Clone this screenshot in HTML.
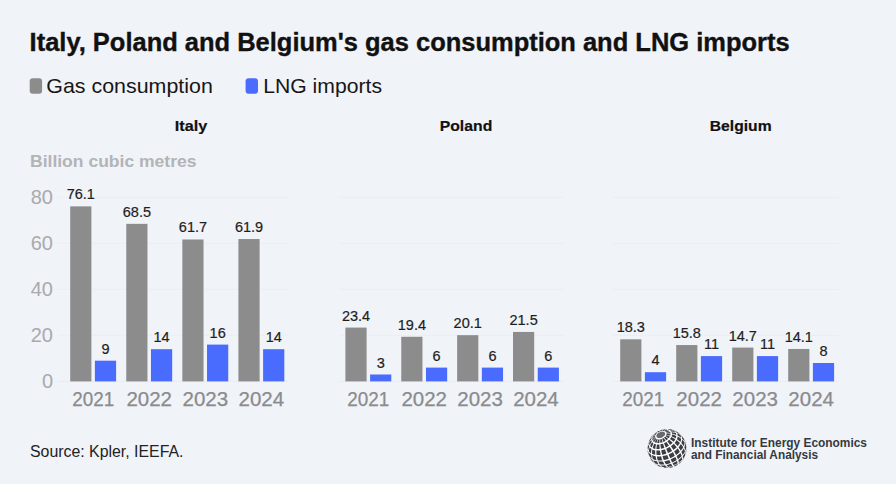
<!DOCTYPE html>
<html><head><meta charset="utf-8"><style>
html,body{margin:0;padding:0;background:#f0f3f8;}
body{width:896px;height:484px;overflow:hidden;position:relative;font-family:"Liberation Sans",sans-serif;}
svg{position:absolute;left:0;top:0;}
text{font-family:"Liberation Sans",sans-serif;}
.title{font-size:25px;font-weight:700;fill:#111;stroke:#111;stroke-width:0.35px;}
.leg{font-size:20.8px;fill:#161616;}
.pt{font-size:15.5px;font-weight:700;fill:#111;stroke:#111;stroke-width:0.2px;}
.unit{font-size:16px;font-weight:700;fill:#b3b4b6;}
.yl{font-size:20px;fill:#a9aaac;}
.yr{font-size:20.5px;fill:#8a8b8d;stroke:#8a8b8d;stroke-width:0.25px;}
.vh{font-size:14.5px;fill:#f0f3f8;stroke:#f0f3f8;stroke-width:3px;stroke-linejoin:round;}
.vl{font-size:14.5px;fill:#1e1e1e;stroke:#1e1e1e;stroke-width:0.2px;}
.src{font-size:16px;fill:#222;}
.logo{font-size:12.4px;font-weight:700;fill:#363940;}
</style></head><body>
<svg width="896" height="484" viewBox="0 0 896 484">
<defs><filter id="soft" x="-10%" y="-10%" width="120%" height="120%"><feGaussianBlur stdDeviation="0.25"/></filter></defs>
<text x="29.6" y="50.8" class="title" textLength="760" lengthAdjust="spacingAndGlyphs">Italy, Poland and Belgium's gas consumption and LNG imports</text>
<rect x="29.7" y="78.2" width="12.4" height="15.5" rx="3" fill="#8c8c8c"/>
<text x="46.3" y="93.2" class="leg" textLength="166.5" lengthAdjust="spacingAndGlyphs">Gas consumption</text>
<rect x="245.6" y="78.2" width="12.4" height="15.5" rx="3" fill="#496bfe"/>
<text x="263.2" y="93.2" class="leg" textLength="118.8" lengthAdjust="spacingAndGlyphs">LNG imports</text>
<text x="30" y="166.7" class="unit" textLength="166.5" lengthAdjust="spacingAndGlyphs">Billion cubic metres</text>
<rect x="58" y="380.90" width="231.0" height="1" fill="#e9ecf1"/>
<rect x="58" y="334.90" width="231.0" height="1" fill="#ebeef3"/>
<rect x="58" y="288.90" width="231.0" height="1" fill="#ebeef3"/>
<rect x="58" y="242.90" width="231.0" height="1" fill="#ebeef3"/>
<rect x="58" y="196.90" width="231.0" height="1" fill="#ebeef3"/>
<rect x="338.3" y="380.90" width="225.99999999999994" height="1" fill="#e9ecf1"/>
<rect x="338.3" y="334.90" width="225.99999999999994" height="1" fill="#ebeef3"/>
<rect x="338.3" y="288.90" width="225.99999999999994" height="1" fill="#ebeef3"/>
<rect x="338.3" y="242.90" width="225.99999999999994" height="1" fill="#ebeef3"/>
<rect x="338.3" y="196.90" width="225.99999999999994" height="1" fill="#ebeef3"/>
<rect x="613.0" y="380.90" width="226.0" height="1" fill="#e9ecf1"/>
<rect x="613.0" y="334.90" width="226.0" height="1" fill="#ebeef3"/>
<rect x="613.0" y="288.90" width="226.0" height="1" fill="#ebeef3"/>
<rect x="613.0" y="242.90" width="226.0" height="1" fill="#ebeef3"/>
<rect x="613.0" y="196.90" width="226.0" height="1" fill="#ebeef3"/>
<text x="53" y="388.00" class="yl" text-anchor="end">0</text>
<text x="53" y="342.00" class="yl" text-anchor="end">20</text>
<text x="53" y="296.00" class="yl" text-anchor="end">40</text>
<text x="53" y="250.00" class="yl" text-anchor="end">60</text>
<text x="53" y="204.00" class="yl" text-anchor="end">80</text>
<text x="191.0" y="130.9" class="pt" text-anchor="middle" textLength="32.5" lengthAdjust="spacingAndGlyphs">Italy</text>
<rect x="70.20" y="206.37" width="21.2" height="175.03" fill="#8c8c8c"/>
<rect x="94.90" y="360.70" width="21.2" height="20.70" fill="#496bfe"/>
<text x="80.80" y="199.37" class="vh" text-anchor="middle">76.1</text>
<text x="105.50" y="353.70" class="vh" text-anchor="middle">9</text>
<text x="80.80" y="199.37" class="vl" text-anchor="middle">76.1</text>
<text x="105.50" y="353.70" class="vl" text-anchor="middle">9</text>
<text x="93.15" y="406" class="yr" text-anchor="middle" textLength="42" lengthAdjust="spacingAndGlyphs">2021</text>
<rect x="126.27" y="223.85" width="21.2" height="157.55" fill="#8c8c8c"/>
<rect x="150.97" y="349.20" width="21.2" height="32.20" fill="#496bfe"/>
<text x="136.87" y="216.85" class="vh" text-anchor="middle">68.5</text>
<text x="161.57" y="342.20" class="vh" text-anchor="middle">14</text>
<text x="136.87" y="216.85" class="vl" text-anchor="middle">68.5</text>
<text x="161.57" y="342.20" class="vl" text-anchor="middle">14</text>
<text x="149.22" y="406" class="yr" text-anchor="middle">2022</text>
<rect x="182.34" y="239.49" width="21.2" height="141.91" fill="#8c8c8c"/>
<rect x="207.04" y="344.60" width="21.2" height="36.80" fill="#496bfe"/>
<text x="192.94" y="232.49" class="vh" text-anchor="middle">61.7</text>
<text x="217.64" y="337.60" class="vh" text-anchor="middle">16</text>
<text x="192.94" y="232.49" class="vl" text-anchor="middle">61.7</text>
<text x="217.64" y="337.60" class="vl" text-anchor="middle">16</text>
<text x="205.29" y="406" class="yr" text-anchor="middle">2023</text>
<rect x="238.41" y="239.03" width="21.2" height="142.37" fill="#8c8c8c"/>
<rect x="263.11" y="349.20" width="21.2" height="32.20" fill="#496bfe"/>
<text x="249.01" y="232.03" class="vh" text-anchor="middle">61.9</text>
<text x="273.71" y="342.20" class="vh" text-anchor="middle">14</text>
<text x="249.01" y="232.03" class="vl" text-anchor="middle">61.9</text>
<text x="273.71" y="342.20" class="vl" text-anchor="middle">14</text>
<text x="261.36" y="406" class="yr" text-anchor="middle">2024</text>
<text x="466.0" y="130.9" class="pt" text-anchor="middle" textLength="52.5" lengthAdjust="spacingAndGlyphs">Poland</text>
<rect x="345.40" y="327.58" width="21.2" height="53.82" fill="#8c8c8c"/>
<rect x="370.10" y="374.50" width="21.2" height="6.90" fill="#496bfe"/>
<text x="356.00" y="320.58" class="vh" text-anchor="middle">23.4</text>
<text x="380.70" y="367.50" class="vh" text-anchor="middle">3</text>
<text x="356.00" y="320.58" class="vl" text-anchor="middle">23.4</text>
<text x="380.70" y="367.50" class="vl" text-anchor="middle">3</text>
<text x="368.35" y="406" class="yr" text-anchor="middle" textLength="42" lengthAdjust="spacingAndGlyphs">2021</text>
<rect x="401.27" y="336.78" width="21.2" height="44.62" fill="#8c8c8c"/>
<rect x="425.97" y="367.60" width="21.2" height="13.80" fill="#496bfe"/>
<text x="411.87" y="329.78" class="vh" text-anchor="middle">19.4</text>
<text x="436.57" y="360.60" class="vh" text-anchor="middle">6</text>
<text x="411.87" y="329.78" class="vl" text-anchor="middle">19.4</text>
<text x="436.57" y="360.60" class="vl" text-anchor="middle">6</text>
<text x="424.22" y="406" class="yr" text-anchor="middle">2022</text>
<rect x="457.14" y="335.17" width="21.2" height="46.23" fill="#8c8c8c"/>
<rect x="481.84" y="367.60" width="21.2" height="13.80" fill="#496bfe"/>
<text x="467.74" y="328.17" class="vh" text-anchor="middle">20.1</text>
<text x="492.44" y="360.60" class="vh" text-anchor="middle">6</text>
<text x="467.74" y="328.17" class="vl" text-anchor="middle">20.1</text>
<text x="492.44" y="360.60" class="vl" text-anchor="middle">6</text>
<text x="480.09" y="406" class="yr" text-anchor="middle">2023</text>
<rect x="513.01" y="331.95" width="21.2" height="49.45" fill="#8c8c8c"/>
<rect x="537.71" y="367.60" width="21.2" height="13.80" fill="#496bfe"/>
<text x="523.61" y="324.95" class="vh" text-anchor="middle">21.5</text>
<text x="548.31" y="360.60" class="vh" text-anchor="middle">6</text>
<text x="523.61" y="324.95" class="vl" text-anchor="middle">21.5</text>
<text x="548.31" y="360.60" class="vl" text-anchor="middle">6</text>
<text x="535.96" y="406" class="yr" text-anchor="middle">2024</text>
<text x="740.7" y="130.9" class="pt" text-anchor="middle" textLength="61.8" lengthAdjust="spacingAndGlyphs">Belgium</text>
<rect x="620.20" y="339.31" width="21.2" height="42.09" fill="#8c8c8c"/>
<rect x="644.90" y="372.20" width="21.2" height="9.20" fill="#496bfe"/>
<text x="630.80" y="332.31" class="vh" text-anchor="middle">18.3</text>
<text x="655.50" y="365.20" class="vh" text-anchor="middle">4</text>
<text x="630.80" y="332.31" class="vl" text-anchor="middle">18.3</text>
<text x="655.50" y="365.20" class="vl" text-anchor="middle">4</text>
<text x="643.15" y="406" class="yr" text-anchor="middle" textLength="42" lengthAdjust="spacingAndGlyphs">2021</text>
<rect x="676.20" y="345.06" width="21.2" height="36.34" fill="#8c8c8c"/>
<rect x="700.90" y="356.10" width="21.2" height="25.30" fill="#496bfe"/>
<text x="686.80" y="338.06" class="vh" text-anchor="middle">15.8</text>
<text x="711.50" y="349.10" class="vh" text-anchor="middle">11</text>
<text x="686.80" y="338.06" class="vl" text-anchor="middle">15.8</text>
<text x="711.50" y="349.10" class="vl" text-anchor="middle">11</text>
<text x="699.15" y="406" class="yr" text-anchor="middle">2022</text>
<rect x="732.20" y="347.59" width="21.2" height="33.81" fill="#8c8c8c"/>
<rect x="756.90" y="356.10" width="21.2" height="25.30" fill="#496bfe"/>
<text x="742.80" y="340.59" class="vh" text-anchor="middle">14.7</text>
<text x="767.50" y="349.10" class="vh" text-anchor="middle">11</text>
<text x="742.80" y="340.59" class="vl" text-anchor="middle">14.7</text>
<text x="767.50" y="349.10" class="vl" text-anchor="middle">11</text>
<text x="755.15" y="406" class="yr" text-anchor="middle">2023</text>
<rect x="788.20" y="348.97" width="21.2" height="32.43" fill="#8c8c8c"/>
<rect x="812.90" y="363.00" width="21.2" height="18.40" fill="#496bfe"/>
<text x="798.80" y="341.97" class="vh" text-anchor="middle">14.1</text>
<text x="823.50" y="356.00" class="vh" text-anchor="middle">8</text>
<text x="798.80" y="341.97" class="vl" text-anchor="middle">14.1</text>
<text x="823.50" y="356.00" class="vl" text-anchor="middle">8</text>
<text x="811.15" y="406" class="yr" text-anchor="middle">2024</text>
<text x="30" y="456.7" class="src" textLength="153.5" lengthAdjust="spacingAndGlyphs">Source: Kpler, IEEFA.</text>
<g filter="url(#soft)"><circle cx="667" cy="448.5" r="19.5" fill="#ffffff"/><path fill="#66696e" d="M665.1,433.7 L665.1,434.2 L664.9,434.7 L664.7,435.2 L664.3,435.7 L663.9,436.2 L663.3,436.6 L662.7,437.0 L662.1,437.4 L661.4,437.7 L660.8,437.9 L660.1,438.0 L659.4,438.1 L658.8,438.1 L658.2,438.0 L657.6,437.8 L657.2,437.6 L656.8,437.3 L656.6,436.9 L656.4,436.5 L656.4,436.0 L656.4,435.6 L656.6,435.0 L656.8,434.5 L657.2,434.0 L657.6,433.6 L658.2,433.1 L658.8,432.7 L659.4,432.4 L660.1,432.1 L660.8,431.9 L661.4,431.7 L662.1,431.6 L662.7,431.7 L663.3,431.7 L663.9,431.9 L664.3,432.2 L664.7,432.5 L664.9,432.8 L665.1,433.2Z"/><path fill="#3b3e45" d="M666.6,433.8 L666.6,434.2 L666.5,434.5 L666.4,434.9 L666.4,434.9 L668.3,435.3 L670.2,435.8 L670.2,435.8 L670.3,435.3 L670.5,434.7 L670.6,434.2 L670.6,434.2 L668.6,433.9 L666.6,433.8Z M666.2,435.3 L666.0,435.6 L665.7,436.0 L665.5,436.3 L665.5,436.3 L667.1,437.2 L668.7,438.2 L668.7,438.2 L669.1,437.6 L669.5,437.1 L669.9,436.5 L669.9,436.5 L668.0,435.8 L666.2,435.3Z M665.1,436.7 L664.8,437.0 L664.4,437.3 L664.0,437.6 L664.0,437.6 L665.2,438.9 L666.4,440.3 L666.4,440.3 L667.0,439.8 L667.6,439.3 L668.1,438.8 L668.1,438.8 L666.6,437.7 L665.1,436.7Z M663.5,438.0 L663.1,438.2 L662.6,438.5 L662.2,438.7 L662.2,438.7 L662.8,440.2 L663.4,441.9 L663.4,441.9 L664.2,441.6 L664.9,441.2 L665.6,440.8 L665.6,440.8 L664.5,439.3 L663.5,438.0Z M661.6,438.9 L661.1,439.0 L660.6,439.2 L660.2,439.3 L660.2,439.3 L660.2,441.0 L660.3,442.8 L660.3,442.8 L661.0,442.7 L661.8,442.5 L662.6,442.2 L662.6,442.2 L662.1,440.5 L661.6,438.9Z M659.6,439.3 L659.1,439.4 L658.7,439.4 L658.3,439.4 L658.3,439.4 L657.7,441.1 L657.2,443.0 L657.2,443.0 L657.9,443.0 L658.7,443.0 L659.4,443.0 L659.4,443.0 L659.5,441.1 L659.6,439.3Z M657.8,439.3 L657.4,439.2 L657.0,439.1 L656.7,439.0 L656.7,439.0 L655.6,440.6 L654.7,442.4 L654.7,442.4 L655.2,442.6 L655.8,442.8 L656.5,442.9 L656.5,442.9 L657.1,441.1 L657.8,439.3Z M656.3,438.8 L656.0,438.6 L655.8,438.3 L655.6,438.1 L655.6,438.1 L654.2,439.5 L653.0,441.0 L653.0,441.0 L653.3,441.4 L653.7,441.7 L654.1,442.1 L654.1,442.1 L655.2,440.4 L656.3,438.8Z M655.4,437.8 L655.3,437.5 L655.2,437.2 L655.1,436.9 L655.1,436.9 L653.6,437.9 L652.3,439.1 L652.3,439.1 L652.3,439.6 L652.5,440.0 L652.7,440.5 L652.7,440.5 L654.0,439.1 L655.4,437.8Z M655.1,436.5 L655.2,436.2 L655.3,435.8 L655.4,435.5 L655.4,435.5 L654.0,436.1 L652.7,436.8 L652.7,436.8 L652.5,437.4 L652.3,437.9 L652.3,438.5 L652.3,438.5 L653.6,437.4 L655.1,436.5Z M655.6,435.1 L655.8,434.7 L656.0,434.3 L656.3,434.0 L656.3,434.0 L655.2,434.2 L654.1,434.5 L654.1,434.5 L653.7,435.0 L653.3,435.6 L653.0,436.1 L653.0,436.1 L654.2,435.5 L655.6,435.1Z M656.7,433.6 L657.0,433.3 L657.4,433.0 L657.8,432.7 L657.8,432.7 L657.1,432.4 L656.5,432.4 L656.5,432.4 L655.8,432.8 L655.2,433.3 L654.7,433.9 L654.7,433.9 L655.6,433.7 L656.7,433.6Z M658.3,432.4 L658.7,432.1 L659.1,431.9 L659.6,431.7 L659.6,431.7 L659.5,431.1 L659.4,430.7 L659.4,430.7 L658.7,431.1 L657.9,431.5 L657.2,431.9 L657.2,431.9 L657.7,432.0 L658.3,432.4Z M660.2,431.4 L660.6,431.3 L661.1,431.2 L661.6,431.1 L661.6,431.1 L662.1,430.3 L662.6,429.8 L662.6,429.8 L661.8,430.0 L661.0,430.2 L660.3,430.4 L660.3,430.4 L660.2,430.8 L660.2,431.4Z M662.2,431.0 L662.6,430.9 L663.1,430.9 L663.5,431.0 L663.5,431.0 L664.5,430.2 L665.6,429.6 L665.6,429.6 L664.9,429.6 L664.2,429.6 L663.4,429.7 L663.4,429.7 L662.8,430.2 L662.2,431.0Z M664.0,431.0 L664.4,431.1 L664.8,431.2 L665.1,431.4 L665.1,431.4 L666.6,430.7 L668.1,430.3 L668.1,430.3 L667.6,430.0 L667.0,429.9 L666.4,429.7 L666.4,429.7 L665.2,430.3 L664.0,431.0Z M665.5,431.6 L665.7,431.8 L666.0,432.0 L666.2,432.2 L666.2,432.2 L668.0,431.8 L669.9,431.6 L669.9,431.6 L669.5,431.3 L669.1,430.9 L668.7,430.6 L668.7,430.6 L667.1,431.0 L665.5,431.6Z M666.4,432.5 L666.5,432.8 L666.6,433.1 L666.6,433.4 L666.6,433.4 L668.6,433.4 L670.6,433.6 L670.6,433.6 L670.5,433.1 L670.3,432.6 L670.2,432.1 L670.2,432.1 L668.3,432.2 L666.4,432.5Z M672.0,434.5 L671.9,435.1 L671.8,435.7 L671.6,436.4 L671.6,436.4 L673.7,437.3 L675.7,438.4 L675.7,438.4 L676.0,437.5 L676.2,436.7 L676.3,435.9 L676.3,435.9 L674.2,435.1 L672.0,434.5Z M671.2,437.1 L670.8,437.7 L670.4,438.4 L669.9,439.0 L669.9,439.0 L671.8,440.3 L673.5,441.8 L673.5,441.8 L674.2,441.0 L674.8,440.2 L675.3,439.3 L675.3,439.3 L673.3,438.1 L671.2,437.1Z M669.3,439.7 L668.7,440.3 L668.0,440.8 L667.3,441.4 L667.3,441.4 L668.7,443.1 L670.1,445.0 L670.1,445.0 L671.0,444.3 L671.9,443.5 L672.7,442.7 L672.7,442.7 L671.0,441.2 L669.3,439.7Z M666.4,441.9 L665.6,442.4 L664.8,442.8 L664.0,443.2 L664.0,443.2 L664.8,445.3 L665.7,447.4 L665.7,447.4 L666.8,446.9 L667.9,446.3 L668.9,445.7 L668.9,445.7 L667.7,443.8 L666.4,441.9Z M663.0,443.6 L662.1,443.9 L661.2,444.1 L660.4,444.3 L660.4,444.3 L660.6,446.5 L661.0,448.8 L661.0,448.8 L662.1,448.6 L663.3,448.2 L664.4,447.9 L664.4,447.9 L663.7,445.7 L663.0,443.6Z M659.4,444.4 L658.6,444.5 L657.7,444.5 L656.9,444.5 L656.9,444.5 L656.6,446.7 L656.4,449.0 L656.4,449.0 L657.5,449.1 L658.6,449.1 L659.7,449.0 L659.7,449.0 L659.5,446.7 L659.4,444.4Z M656.1,444.3 L655.4,444.2 L654.7,444.0 L654.1,443.7 L654.1,443.7 L653.3,445.9 L652.7,448.1 L652.7,448.1 L653.5,448.4 L654.4,448.7 L655.3,448.9 L655.3,448.9 L655.6,446.6 L656.1,444.3Z M653.4,443.4 L652.9,443.0 L652.5,442.6 L652.1,442.2 L652.1,442.2 L651.0,444.1 L650.1,446.0 L650.1,446.0 L650.6,446.6 L651.2,447.1 L651.8,447.6 L651.8,447.6 L652.5,445.5 L653.4,443.4Z M651.8,441.6 L651.6,441.1 L651.4,440.6 L651.3,440.0 L651.3,440.0 L650.1,441.5 L649.1,443.1 L649.1,443.1 L649.2,443.9 L649.4,444.6 L649.7,445.3 L649.7,445.3 L650.6,443.4 L651.8,441.6Z M651.3,439.3 L651.4,438.7 L651.6,438.1 L651.8,437.4 L651.8,437.4 L650.6,438.5 L649.7,439.8 L649.7,439.8 L649.4,440.6 L649.2,441.4 L649.1,442.3 L649.1,442.3 L650.1,440.7 L651.3,439.3Z M652.1,436.7 L652.5,436.1 L652.9,435.4 L653.4,434.8 L653.4,434.8 L652.5,435.5 L651.8,436.3 L651.8,436.3 L651.2,437.1 L650.6,438.0 L650.1,438.8 L650.1,438.8 L651.0,437.7 L652.1,436.7Z M654.1,434.1 L654.7,433.5 L655.4,433.0 L656.1,432.4 L656.1,432.4 L655.6,432.7 L655.2,433.0 L655.2,433.0 L654.2,433.7 L653.4,434.5 L652.6,435.3 L652.6,435.3 L653.3,434.7 L654.1,434.1Z M656.9,431.8 L657.7,431.4 L658.6,431.0 L659.4,430.6 L659.4,430.6 L659.5,430.5 L659.6,430.5 L659.6,430.5 L658.4,431.0 L657.3,431.6 L656.3,432.2 L656.3,432.2 L656.6,432.0 L656.9,431.8Z M660.4,430.2 L661.2,429.9 L662.1,429.7 L663.0,429.5 L663.0,429.5 L663.7,429.3 L664.4,429.2 L664.4,429.2 L663.2,429.4 L662.0,429.6 L660.9,430.0 L660.9,430.0 L660.6,430.1 L660.4,430.2Z M664.0,429.4 L664.8,429.3 L665.6,429.3 L666.4,429.3 L666.4,429.3 L667.7,429.1 L668.9,429.1 L668.9,429.1 L667.9,429.0 L666.8,429.0 L665.7,429.0 L665.7,429.0 L664.8,429.1 L664.0,429.4Z M667.3,429.4 L668.0,429.6 L668.7,429.8 L669.3,430.0 L669.3,430.0 L671.0,429.9 L672.7,430.1 L672.7,430.1 L671.9,429.7 L671.0,429.4 L670.1,429.2 L670.1,429.2 L668.7,429.2 L667.3,429.4Z M669.9,430.4 L670.4,430.8 L670.8,431.2 L671.2,431.6 L671.2,431.6 L673.3,431.7 L675.3,432.1 L675.3,432.1 L674.8,431.5 L674.2,431.0 L673.5,430.5 L673.5,430.5 L671.8,430.3 L669.9,430.4Z M671.6,432.2 L671.8,432.7 L671.9,433.2 L672.0,433.8 L672.0,433.8 L674.2,434.3 L676.3,435.0 L676.3,435.0 L676.2,434.2 L676.0,433.5 L675.7,432.8 L675.7,432.8 L673.7,432.4 L671.6,432.2Z M677.6,436.5 L677.5,437.4 L677.3,438.3 L676.9,439.2 L676.9,439.2 L678.7,440.5 L680.4,441.9 L680.4,441.9 L680.8,440.9 L681.0,439.8 L681.1,438.8 L681.1,438.8 L679.4,437.6 L677.6,436.5Z M676.5,440.1 L676.0,441.1 L675.3,442.0 L674.6,442.9 L674.6,442.9 L676.2,444.5 L677.7,446.2 L677.7,446.2 L678.5,445.1 L679.3,444.1 L679.9,443.0 L679.9,443.0 L678.3,441.5 L676.5,440.1Z M673.8,443.8 L672.9,444.6 L671.9,445.4 L670.9,446.2 L670.9,446.2 L672.2,448.1 L673.4,450.0 L673.4,450.0 L674.6,449.1 L675.7,448.2 L676.7,447.2 L676.7,447.2 L675.3,445.5 L673.8,443.8Z M669.8,447.0 L668.6,447.6 L667.4,448.2 L666.2,448.8 L666.2,448.8 L667.1,450.9 L668.0,453.0 L668.0,453.0 L669.4,452.4 L670.8,451.7 L672.1,450.9 L672.1,450.9 L671.0,448.9 L669.8,447.0Z M664.9,449.3 L663.7,449.7 L662.4,450.0 L661.2,450.3 L661.2,450.3 L661.6,452.5 L662.2,454.7 L662.2,454.7 L663.6,454.4 L665.1,454.0 L666.5,453.6 L666.5,453.6 L665.7,451.4 L664.9,449.3Z M659.9,450.5 L658.7,450.6 L657.5,450.6 L656.4,450.5 L656.4,450.5 L656.4,452.8 L656.6,455.0 L656.6,455.0 L657.9,455.1 L659.3,455.1 L660.7,454.9 L660.7,454.9 L660.3,452.7 L659.9,450.5Z M655.2,450.4 L654.2,450.2 L653.2,449.9 L652.3,449.5 L652.3,449.5 L652.1,451.7 L652.0,453.8 L652.0,453.8 L653.0,454.3 L654.1,454.6 L655.3,454.8 L655.3,454.8 L655.2,452.6 L655.2,450.4Z M651.5,449.0 L650.8,448.5 L650.2,447.9 L649.6,447.3 L649.6,447.3 L649.1,449.3 L648.9,451.3 L648.9,451.3 L649.5,452.0 L650.2,452.7 L651.0,453.3 L651.0,453.3 L651.2,451.2 L651.5,449.0Z M649.2,446.6 L648.9,445.8 L648.6,445.0 L648.5,444.2 L648.5,444.2 L647.9,446.0 L647.6,447.7 L647.6,447.7 L647.7,448.7 L648.0,449.6 L648.3,450.5 L648.3,450.5 L648.6,448.5 L649.2,446.6Z M648.5,443.3 L648.6,442.4 L648.9,441.5 L649.2,440.6 L649.2,440.6 L648.6,442.0 L648.1,443.5 L648.1,443.5 L647.9,444.6 L647.7,445.7 L647.6,446.7 L647.6,446.7 L647.9,445.0 L648.5,443.3Z M670.9,429.4 L671.9,429.6 L672.9,429.9 L673.8,430.3 L673.8,430.3 L675.3,430.9 L676.8,431.6 L676.8,431.6 L675.8,431.1 L674.7,430.6 L673.6,430.1 L673.6,430.1 L672.2,429.7 L670.9,429.4Z M674.6,430.8 L675.3,431.3 L676.0,431.9 L676.5,432.5 L676.5,432.5 L678.3,433.2 L679.9,434.2 L679.9,434.2 L679.3,433.5 L678.5,432.8 L677.7,432.2 L677.7,432.2 L676.2,431.4 L674.6,430.8Z M676.9,433.2 L677.3,434.0 L677.5,434.7 L677.6,435.6 L677.6,435.6 L679.4,436.6 L681.1,437.8 L681.1,437.8 L681.0,436.8 L680.8,435.9 L680.4,435.0 L680.4,435.0 L678.7,434.0 L676.9,433.2Z M682.1,439.6 L682.0,440.7 L681.7,441.8 L681.3,443.0 L681.3,443.0 L682.6,444.5 L683.7,446.2 L683.7,446.2 L684.2,445.0 L684.5,443.8 L684.6,442.6 L684.6,442.6 L683.5,441.0 L682.1,439.6Z M680.8,444.0 L680.2,445.1 L679.4,446.2 L678.5,447.4 L678.5,447.4 L679.7,449.1 L680.8,450.8 L680.8,450.8 L681.7,449.6 L682.5,448.4 L683.2,447.2 L683.2,447.2 L682.2,445.6 L680.8,444.0Z M677.6,448.3 L676.5,449.4 L675.3,450.4 L674.1,451.3 L674.1,451.3 L675.1,453.2 L676.1,455.0 L676.1,455.0 L677.4,454.0 L678.7,452.9 L679.8,451.8 L679.8,451.8 L678.8,450.1 L677.6,448.3Z M672.9,452.1 L671.5,452.9 L670.0,453.7 L668.5,454.4 L668.5,454.4 L669.4,456.3 L670.2,458.2 L670.2,458.2 L671.8,457.5 L673.3,456.7 L674.8,455.8 L674.8,455.8 L673.9,454.0 L672.9,452.1Z M667.2,454.9 L665.6,455.4 L664.0,455.8 L662.5,456.1 L662.5,456.1 L663.1,458.2 L663.8,460.1 L663.8,460.1 L665.5,459.7 L667.1,459.3 L668.8,458.7 L668.8,458.7 L668.0,456.9 L667.2,454.9Z M661.1,456.3 L659.6,456.4 L658.2,456.5 L656.8,456.4 L656.8,456.4 L657.2,458.4 L657.8,460.4 L657.8,460.4 L659.3,460.4 L660.8,460.4 L662.4,460.3 L662.4,460.3 L661.7,458.4 L661.1,456.3Z M655.6,456.2 L654.3,456.0 L653.1,455.6 L652.0,455.1 L652.0,455.1 L652.3,457.1 L652.8,459.0 L652.8,459.0 L653.9,459.5 L655.2,459.9 L656.5,460.2 L656.5,460.2 L656.0,458.3 L655.6,456.2Z M651.1,454.7 L650.2,454.0 L649.4,453.3 L648.8,452.5 L648.8,452.5 L649.0,454.4 L649.4,456.2 L649.4,456.2 L650.1,457.1 L650.9,457.8 L651.8,458.5 L651.8,458.5 L651.4,456.6 L651.1,454.7Z M648.3,451.8 L647.9,450.8 L647.6,449.9 L647.5,448.8 L647.5,448.8 L647.6,450.6 L647.9,452.4 L647.9,452.4 L648.1,453.4 L648.4,454.5 L648.9,455.4 L648.9,455.4 L648.5,453.6 L648.3,451.8Z M678.5,432.8 L679.4,433.5 L680.2,434.2 L680.8,435.0 L680.8,435.0 L682.2,436.3 L683.2,437.7 L683.2,437.7 L682.6,436.8 L681.9,436.0 L681.2,435.1 L681.2,435.1 L679.9,433.9 L678.5,432.8Z M681.3,435.7 L681.7,436.7 L682.0,437.6 L682.1,438.7 L682.1,438.7 L683.5,440.1 L684.6,441.6 L684.6,441.6 L684.5,440.5 L684.2,439.5 L683.7,438.5 L683.7,438.5 L682.6,437.0 L681.3,435.7Z M685.2,443.6 L685.0,444.8 L684.8,446.0 L684.3,447.2 L684.3,447.2 L685.0,448.9 L685.5,450.6 L685.5,450.6 L685.9,449.4 L686.2,448.2 L686.3,447.0 L686.3,447.0 L685.9,445.3 L685.2,443.6Z M683.8,448.3 L683.1,449.5 L682.3,450.7 L681.3,451.9 L681.3,451.9 L682.1,453.6 L682.6,455.1 L682.6,455.1 L683.5,454.0 L684.3,452.8 L685.0,451.6 L685.0,451.6 L684.5,449.9 L683.8,448.3Z M680.4,452.9 L679.3,454.0 L678.0,455.1 L676.6,456.1 L676.6,456.1 L677.3,457.7 L677.9,459.3 L677.9,459.3 L679.3,458.3 L680.5,457.2 L681.7,456.1 L681.7,456.1 L681.1,454.5 L680.4,452.9Z M675.4,456.9 L673.9,457.8 L672.3,458.6 L670.7,459.3 L670.7,459.3 L671.4,461.0 L672.1,462.4 L672.1,462.4 L673.7,461.7 L675.2,460.9 L676.7,460.1 L676.7,460.1 L676.1,458.6 L675.4,456.9Z M669.3,459.9 L667.6,460.4 L666.0,460.9 L664.3,461.2 L664.3,461.2 L665.1,462.8 L665.9,464.3 L665.9,464.3 L667.5,463.9 L669.1,463.5 L670.8,463.0 L670.8,463.0 L670.0,461.5 L669.3,459.9Z M662.9,461.4 L661.3,461.6 L659.7,461.6 L658.2,461.5 L658.2,461.5 L659.0,463.1 L659.9,464.5 L659.9,464.5 L661.4,464.6 L662.9,464.6 L664.5,464.5 L664.5,464.5 L663.7,463.0 L662.9,461.4Z M657.0,461.3 L655.6,461.1 L654.3,460.7 L653.2,460.2 L653.2,460.2 L654.0,461.8 L655.0,463.2 L655.0,463.2 L656.1,463.7 L657.4,464.1 L658.7,464.4 L658.7,464.4 L657.8,463.0 L657.0,461.3Z M652.3,459.7 L651.3,459.0 L650.5,458.2 L649.8,457.4 L649.8,457.4 L650.6,459.0 L651.6,460.5 L651.6,460.5 L652.3,461.3 L653.1,462.1 L654.1,462.7 L654.1,462.7 L653.1,461.3 L652.3,459.7Z M649.3,456.6 L648.8,455.6 L648.5,454.6 L648.2,453.5 L648.2,453.5 L648.7,455.3 L649.5,457.1 L649.5,457.1 L650.0,458.0 L650.5,458.9 L651.1,459.8 L651.1,459.8 L650.1,458.2 L649.3,456.6Z M684.3,439.5 L684.8,440.5 L685.0,441.6 L685.2,442.7 L685.2,442.7 L685.9,444.4 L686.3,446.1 L686.3,446.1 L686.2,445.0 L686.0,444.0 L685.7,443.0 L685.7,443.0 L685.1,441.2 L684.3,439.5Z M686.5,448.2 L686.3,449.3 L686.1,450.4 L685.6,451.6 L685.6,451.6 L685.7,453.2 L685.4,454.7 L685.4,454.7 L685.8,453.7 L686.0,452.7 L686.2,451.7 L686.2,451.7 L686.4,450.0 L686.5,448.2Z M685.1,452.7 L684.5,453.8 L683.7,455.0 L682.8,456.1 L682.8,456.1 L682.9,457.5 L682.9,458.8 L682.9,458.8 L683.7,457.8 L684.4,456.7 L685.0,455.7 L685.0,455.7 L685.2,454.2 L685.1,452.7Z M681.9,457.1 L680.7,458.2 L679.5,459.2 L678.3,460.1 L678.3,460.1 L678.6,461.4 L678.8,462.4 L678.8,462.4 L679.9,461.6 L681.0,460.7 L682.0,459.7 L682.0,459.7 L682.0,458.5 L681.9,457.1Z M677.0,461.0 L675.6,461.8 L674.1,462.6 L672.6,463.2 L672.6,463.2 L673.2,464.4 L673.6,465.3 L673.6,465.3 L675.0,464.6 L676.3,464.0 L677.6,463.2 L677.6,463.2 L677.4,462.2 L677.0,461.0Z M671.1,463.8 L669.6,464.3 L668.0,464.7 L666.5,465.0 L666.5,465.0 L667.3,466.1 L668.1,466.9 L668.1,466.9 L669.5,466.6 L670.9,466.2 L672.3,465.8 L672.3,465.8 L671.8,464.9 L671.1,463.8Z M665.0,465.3 L663.5,465.4 L662.0,465.4 L660.6,465.3 L660.6,465.3 L661.7,466.4 L662.8,467.1 L662.8,467.1 L664.1,467.2 L665.4,467.2 L666.8,467.1 L666.8,467.1 L665.9,466.3 L665.0,465.3Z M659.3,465.2 L658.0,464.9 L656.8,464.5 L655.7,464.1 L655.7,464.1 L657.0,465.1 L658.4,466.0 L658.4,466.0 L659.4,466.4 L660.5,466.8 L661.6,467.0 L661.6,467.0 L660.4,466.2 L659.3,465.2Z M654.8,463.5 L653.9,462.9 L653.1,462.2 L652.4,461.4 L652.4,461.4 L653.7,462.8 L655.1,464.0 L655.1,464.0 L655.9,464.5 L656.7,465.0 L657.5,465.5 L657.5,465.5 L656.1,464.6 L654.8,463.5Z M686.0,444.2 L686.2,445.2 L686.4,446.2 L686.5,447.2 L686.5,447.2 L686.5,449.0 L686.4,450.8 L686.4,450.8 L686.5,449.9 L686.5,449.0 L686.5,448.1 L686.5,448.1 L686.3,446.1 L686.0,444.2Z M686.0,452.9 L685.8,453.8 L685.5,454.7 L685.2,455.6 L685.2,455.6 L684.5,457.0 L683.8,458.4 L683.8,458.4 L684.2,457.7 L684.5,457.0 L684.9,456.3 L684.9,456.3 L685.5,454.6 L686.0,452.9Z M684.7,456.7 L684.1,457.6 L683.5,458.6 L682.7,459.5 L682.7,459.5 L682.3,460.5 L681.6,461.4 L681.6,461.4 L682.2,460.7 L682.8,459.9 L683.3,459.2 L683.3,459.2 L684.0,458.0 L684.7,456.7Z M681.8,460.5 L680.9,461.4 L679.9,462.2 L678.9,463.0 L678.9,463.0 L678.7,463.7 L678.5,464.2 L678.5,464.2 L679.3,463.6 L680.1,462.9 L680.8,462.2 L680.8,462.2 L681.4,461.5 L681.8,460.5Z M677.6,463.8 L676.4,464.5 L675.2,465.1 L674.0,465.7 L674.0,465.7 L674.3,466.2 L674.5,466.4 L674.5,466.4 L675.5,466.0 L676.5,465.5 L677.4,464.9 L677.4,464.9 L677.6,464.5 L677.6,463.8Z M672.5,466.2 L671.3,466.6 L670.0,467.0 L668.7,467.3 L668.7,467.3 L669.5,467.6 L670.2,467.7 L670.2,467.7 L671.2,467.5 L672.3,467.2 L673.3,466.9 L673.3,466.9 L673.0,466.7 L672.5,466.2Z M667.3,467.5 L666.0,467.6 L664.8,467.6 L663.6,467.5 L663.6,467.5 L664.9,467.9 L666.1,468.0 L666.1,468.0 L667.1,468.0 L668.0,468.0 L669.0,467.9 L669.0,467.9 L668.2,467.8 L667.3,467.5Z M662.4,467.4 L661.3,467.1 L660.3,466.8 L659.4,466.5 L659.4,466.5 L661.0,467.0 L662.6,467.5 L662.6,467.5 L663.4,467.7 L664.2,467.8 L665.1,467.9 L665.1,467.9 L663.7,467.7 L662.4,467.4Z M677.2,465.1 L676.4,465.6 L675.5,466.1 L674.6,466.5 L674.6,466.5 L674.7,466.4 L674.7,466.4 L674.7,466.4 L675.4,466.1 L676.0,465.8 L676.6,465.5 L676.6,465.5 L676.9,465.3 L677.2,465.1Z"/></g>
<text x="691" y="446.6" class="logo" textLength="176" lengthAdjust="spacingAndGlyphs">Institute for Energy Economics</text>
<text x="691" y="458.9" class="logo" textLength="127" lengthAdjust="spacingAndGlyphs">and Financial Analysis</text>
</svg>
</body></html>
